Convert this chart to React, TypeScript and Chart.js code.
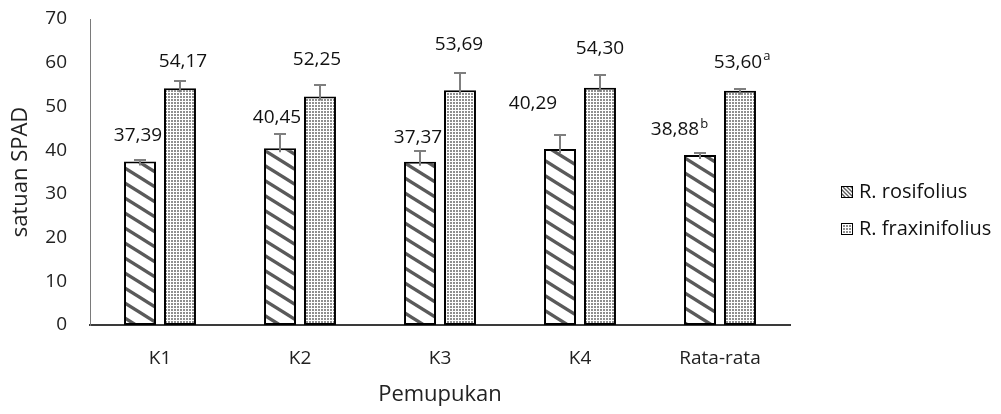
import React, { useEffect, useRef } from 'react';
import { Chart, registerables } from 'chart.js';

Chart.register(...registerables);

const categories = ['K1', 'K2', 'K3', 'K4', 'Rata-rata'];
const seriesNames = ['R. rosifolius', 'R. fraxinifolius'];
const rosifolius = [37.39, 40.45, 37.37, 40.29, 38.88];
const fraxinifolius = [54.17, 52.25, 53.69, 54.3, 53.6];
const rosifoliusErr = [0.3, 3.2, 2.4, 3.2, 0.4];
const fraxinifoliusErr = [1.6, 2.6, 3.9, 3.0, 0.3];
const rosifoliusSup = ['', '', '', '', 'b'];
const fraxinifoliusSup = ['', '', '', '', 'a'];
const yMin = 0;
const yMax = 70;
const yStep = 10;
const xTitle = 'Pemupukan';
const yTitle = 'satuan SPAD';

// label placement offsets (px, relative to top-centre of each bar)
const rosLabelDx = [-2, -3, -2, -27, -25];
const rosLabelDy = [-26, -31, -24, -45, -25];
const fraxLabelDx = [3, -3, -1, 0, -2];
const fraxLabelDy = [-27, -37, -46, -39, -28];

const FONT = '"Open Sans", "Noto Sans", sans-serif';
const TEXT = '#111111';
const TICK = '#222222';

function makeStripe(W: number, H: number, lw: number): CanvasPattern | string {
  const c = document.createElement('canvas');
  c.width = W;
  c.height = H;
  const g = c.getContext('2d');
  if (!g) return '#fff';
  g.fillStyle = '#ffffff';
  g.fillRect(0, 0, W, H);
  g.strokeStyle = '#5a5a5a';
  g.lineWidth = lw;
  for (let k = -1; k <= 1; k++) {
    g.beginPath();
    g.moveTo(-W, k * H - H);
    g.lineTo(2 * W, k * H + 2 * H);
    g.stroke();
  }
  return g.createPattern(c, 'repeat') || '#fff';
}

function makeDots(): CanvasPattern | string {
  const c = document.createElement('canvas');
  c.width = 3;
  c.height = 3;
  const g = c.getContext('2d');
  if (!g) return '#ddd';
  g.fillStyle = '#ffffff';
  g.fillRect(0, 0, 3, 3);
  g.fillStyle = '#8f8f8f';
  g.fillRect(0, 0, 2, 2);
  return g.createPattern(c, 'repeat') || '#ddd';
}

const fmt = (v: number) => v.toFixed(2).replace('.', ',');

export default function App() {
  const ref = useRef<HTMLCanvasElement | null>(null);

  useEffect(() => {
    if (!ref.current) return;
    const stripe = makeStripe(24, 15, 3.3);
    const legendStripe = makeStripe(4, 4, 1.3);
    const dots = makeDots();
    const errs = [rosifoliusErr, fraxinifoliusErr];
    const sups = [rosifoliusSup, fraxinifoliusSup];
    const ldx = [rosLabelDx, fraxLabelDx];
    const ldy = [rosLabelDy, fraxLabelDy];
    const legendFills = [legendStripe, dots];

    const overlay = {
      id: 'overlay',
      afterDatasetsDraw(chart: any) {
        const ctx = chart.ctx as CanvasRenderingContext2D;
        const y = chart.scales.y;
        ctx.save();
        // error bars
        chart.data.datasets.forEach((ds: any, i: number) => {
          const meta = chart.getDatasetMeta(i);
          meta.data.forEach((bar: any, j: number) => {
            const v = ds.data[j] as number;
            const e = errs[i][j];
            const yTop = Math.round(y.getPixelForValue(v + e));
            const yBar = y.getPixelForValue(v);
            const x = Math.round(bar.x);
            ctx.strokeStyle = '#7f7f7f';
            ctx.lineWidth = 2;
            ctx.beginPath();
            ctx.moveTo(x, yBar + 4);
            ctx.lineTo(x, yTop);
            ctx.moveTo(x - 6, yTop);
            ctx.lineTo(x + 6, yTop);
            ctx.stroke();
          });
        });
        // data labels
        chart.data.datasets.forEach((ds: any, i: number) => {
          const meta = chart.getDatasetMeta(i);
          meta.data.forEach((bar: any, j: number) => {
            const v = ds.data[j] as number;
            const txt = fmt(v);
            const cx = bar.x + ldx[i][j];
            const cy = y.getPixelForValue(v) + ldy[i][j];
            ctx.font = `19px ${FONT}`;
            ctx.fillStyle = TEXT;
            ctx.textAlign = 'center';
            ctx.textBaseline = 'middle';
            ctx.fillText(txt, cx, cy);
            const s = sups[i][j];
            if (s) {
              const w = ctx.measureText(txt).width;
              ctx.font = `13px ${FONT}`;
              ctx.textAlign = 'left';
              ctx.fillText(s, cx + w / 2 + 1, cy - 6);
            }
          });
        });
        ctx.restore();
      },
      afterDraw(chart: any) {
        const ctx = chart.ctx as CanvasRenderingContext2D;
        ctx.save();
        const rows = [192, 229];
        seriesNames.forEach((name, i) => {
          const cy = rows[i];
          ctx.fillStyle = legendFills[i] as any;
          ctx.fillRect(841, cy - 6, 12, 12);
          ctx.strokeStyle = '#000000';
          ctx.lineWidth = 1;
          ctx.strokeRect(841.5, cy - 5.5, 11, 11);
          ctx.font = `20px ${FONT}`;
          ctx.fillStyle = TEXT;
          ctx.textAlign = 'left';
          ctx.textBaseline = 'middle';
          ctx.fillText(name, 859, cy);
        });
        ctx.restore();
      },
    };

    const chart = new Chart(ref.current, {
      type: 'bar',
      data: {
        labels: categories,
        datasets: [
          {
            label: seriesNames[0],
            data: rosifolius,
            backgroundColor: stripe as any,
            borderColor: '#000000',
            borderWidth: 2,
            borderSkipped: false,
            categoryPercentage: 0.571,
            barPercentage: 0.8,
          },
          {
            label: seriesNames[1],
            data: fraxinifolius,
            backgroundColor: dots as any,
            borderColor: '#000000',
            borderWidth: 2,
            borderSkipped: false,
            categoryPercentage: 0.571,
            barPercentage: 0.8,
          },
        ],
      },
      options: {
        animation: false,
        responsive: true,
        maintainAspectRatio: false,
        layout: { padding: { top: 19, right: 211, bottom: 0, left: 0 } },
        plugins: {
          legend: { display: false },
          tooltip: { enabled: false },
        },
        scales: {
          x: {
            grid: { display: false, drawTicks: false },
            border: { display: true, color: '#3a3a3a', width: 2 },
            ticks: {
              color: TICK,
              font: { family: FONT, size: 19 },
              padding: 22,
            },
            title: {
              display: true,
              text: xTitle,
              color: TICK,
              font: { family: FONT, size: 22 },
              padding: { top: 0, bottom: 6 },
            },
            afterFit(scale: any) {
              scale.height = 89;
              scale.paddingLeft = 0;
              scale.paddingRight = 0;
            },
          },
          y: {
            min: yMin,
            max: yMax,
            grid: { display: false, drawTicks: false },
            border: { display: true, color: '#7a7a7a', width: 1 },
            ticks: {
              stepSize: yStep,
              color: TICK,
              font: { family: FONT, size: 19 },
              padding: 23,
            },
            title: {
              display: true,
              text: yTitle,
              color: TICK,
              font: { family: FONT, size: 22 },
              padding: { top: 8, bottom: 0 },
            },
            afterFit(scale: any) {
              scale.width = 90;
              scale.paddingTop = 0;
              scale.paddingBottom = 0;
            },
          },
        },
      },
      plugins: [overlay],
    });
    return () => chart.destroy();
  }, []);

  return (
    <div style={{ position: 'fixed', left: 0, top: 0, width: 1001, height: 414, background: '#fff' }}>
      <canvas ref={ref} />
    </div>
  );
}
